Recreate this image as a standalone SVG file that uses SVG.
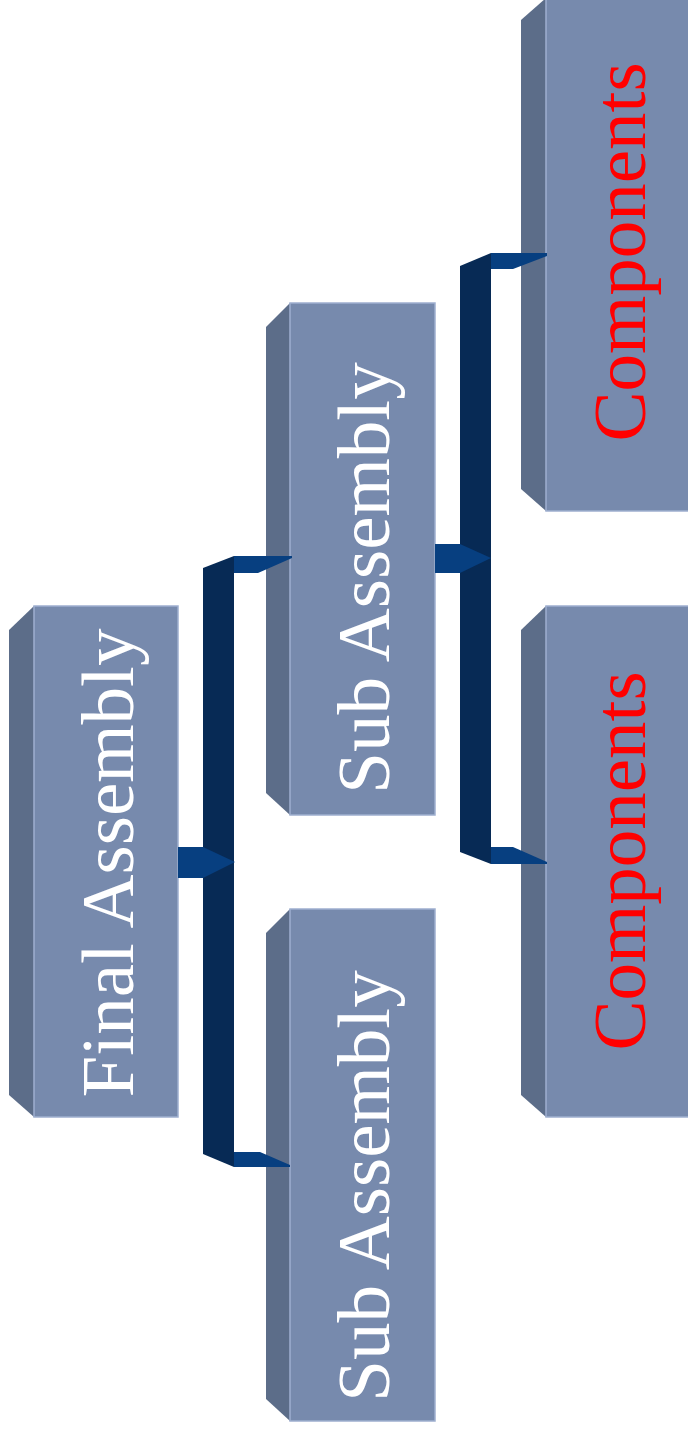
<svg xmlns="http://www.w3.org/2000/svg" width="688" height="1434" viewBox="0 0 688 1434">
  <style>
    .front { fill: #778aad; stroke: #9eafcf; stroke-width: 1.5; }
    .side { fill: #5c6d89; }
    .bar { fill: #072a55; }
    .branch { fill: #073f80; }
    .label { font-family: "Liberation Serif", "Times New Roman", serif; font-size: 75px; text-anchor: middle; }
    .white { fill: #ffffff; }
    .red { fill: #ff0000; }
  </style>

  <!-- Final assembly -->
  <g id="final-assembly">
    <polygon class="side" points="34,606 9,630 9,1095 34,1117"/>
    <rect class="front" x="34" y="606" width="144" height="511"/>
    <text class="label white" transform="translate(133,863) rotate(-90)">Final Assembly</text>
  </g>

  <!-- Sub assemblies -->
  <g id="sub-assembly-1">
    <polygon class="side" points="290,303 266,327 266,793 290,815"/>
    <rect class="front" x="290" y="303" width="145" height="512"/>
    <text class="label white" transform="translate(389,578) rotate(-90)">Sub Assembly</text>
  </g>
  <g id="sub-assembly-2">
    <polygon class="side" points="290,909 266,933 266,1399 290,1421"/>
    <rect class="front" x="290" y="909" width="145" height="512"/>
    <text class="label white" transform="translate(389,1186) rotate(-90)">Sub Assembly</text>
  </g>

  <!-- Components -->
  <g id="components-1">
    <polygon class="side" points="546,-2 521,20 521,489 546,511"/>
    <rect class="front" x="546" y="-2" width="144" height="513"/>
    <text class="label red" transform="translate(645,252) rotate(-90)">Components</text>
  </g>
  <g id="components-2">
    <polygon class="side" points="546,606 521,630 521,1095 546,1117"/>
    <rect class="front" x="546" y="606" width="144" height="511"/>
    <text class="label red" transform="translate(645,861) rotate(-90)">Components</text>
  </g>

  <!-- Connectors -->
  <g id="connectors">
    <!-- final assembly to sub assemblies -->
    <polygon class="bar" points="203,568 234,556 234,1167 203,1154"/>
    <polygon class="branch" points="234,556 292,556 292,558 258,573 234,573"/>
    <polygon class="branch" points="234,1152 260,1152 290,1165 290,1167 234,1167"/>
    <polygon class="branch" points="178,847 203,847 235,862 203,878 178,878"/>
    <!-- sub assembly to components -->
    <polygon class="bar" points="460,266 491,253 491,864 460,852"/>
    <polygon class="branch" points="491,253 547,253 547,256 513,269 491,269"/>
    <polygon class="branch" points="491,847 513,847 547,862 547,864 491,864"/>
    <polygon class="branch" points="435,544 460,544 491,558 460,573 435,573"/>
  </g>
</svg>
